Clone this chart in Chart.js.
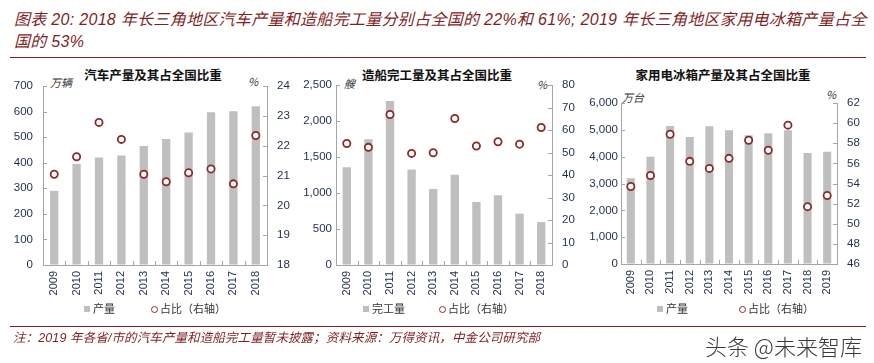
<!DOCTYPE html>
<html>
<head>
<meta charset="utf-8">
<script src="https://cdn.jsdelivr.net/npm/chart.js@4.4.1/dist/chart.umd.min.js"></script>
<style>
  body { margin: 0; background: #fff; width: 874px; height: 363px; position: relative; overflow: hidden;
         font-family: 'Liberation Sans', 'Noto Sans CJK SC', sans-serif; }
  .abs { position: absolute; white-space: nowrap; }
  #head { left: 14px; top: 9px; font-size: 16px; line-height: 22px; color: #7f1f1f; font-style: italic;
          font-family: 'Liberation Sans', 'Noto Sans CJK SC', sans-serif; letter-spacing: 0.3px; }
  .rule { position: absolute; left: 10px; width: 856px; height: 0; border-top: 1.5px solid #7f1f1f; }
  .ctitle { font-family: 'Noto Sans CJK SC', sans-serif; font-weight: 700; font-size: 12.5px; color: #111;
            transform: translateX(-50%); line-height: 14px; }
  .unit { font-family: 'Noto Sans CJK SC', sans-serif; font-size: 11px; color: #333; line-height: 12px; font-style: italic; }
  .leg { font-family: 'Noto Sans CJK SC', sans-serif; font-size: 11px; color: #333; line-height: 12px; }
  .sq { display: inline-block; width: 6px; height: 6px; background: #bfbfbf; margin-right: 3px; vertical-align: 1px; }
  .ci { display: inline-block; width: 5px; height: 5px; border: 1.8px solid #8b2a2a; border-radius: 50%; margin-right: 2px; vertical-align: 0px; }
  #foot { left: 13px; top: 331px; font-size: 12.5px; line-height: 14px; color: #7f1f1f; font-style: italic;
          font-family: 'Liberation Sans', 'Noto Sans CJK SC', sans-serif; }
  #mark { left: 705px; top: 332px; font-size: 22px; line-height: 26px; color: #3a3a3a; font-family: 'Noto Sans CJK SC', sans-serif; font-weight: 300; }
  canvas { position: absolute; }
</style>
</head>
<body>
<div id="head" class="abs">图表 20: 2018 年长三角地区汽车产量和造船完工量分别占全国的 22%和 61%; 2019 年长三角地区家用电冰箱产量占全<br>国的 53%</div>
<div class="rule" style="top:57px"></div>

<div class="abs ctitle" style="left:153px;top:68px">汽车产量及其占全国比重</div>
<div class="abs ctitle" style="left:437px;top:68px">造船完工量及其占全国比重</div>
<div class="abs ctitle" style="left:723px;top:68px">家用电冰箱产量及其占全国比重</div>

<div class="abs unit" style="left:50px;top:76px">万辆</div>
<div class="abs unit" style="left:248px;top:75px">%</div>
<div class="abs unit" style="left:344px;top:77px">艘</div>
<div class="abs unit" style="left:537px;top:78px">%</div>
<div class="abs unit" style="left:622px;top:91px">万台</div>
<div class="abs unit" style="left:826px;top:88px">%</div>

<canvas id="c1" width="295" height="270" style="left:0;top:60px"></canvas>
<canvas id="c2" width="285" height="270" style="left:295px;top:60px"></canvas>
<canvas id="c3" width="294" height="270" style="left:580px;top:60px"></canvas>

<div class="abs leg" style="left:84px;top:302px"><span class="sq"></span>产量</div>
<div class="abs leg" style="left:151px;top:302px"><span class="ci"></span>占比（右轴）</div>
<div class="abs leg" style="left:363px;top:302px"><span class="sq"></span>完工量</div>
<div class="abs leg" style="left:439px;top:302px"><span class="ci"></span>占比（右轴）</div>
<div class="abs leg" style="left:657px;top:302px"><span class="sq"></span>产量</div>
<div class="abs leg" style="left:739px;top:302px"><span class="ci"></span>占比（右轴）</div>

<div class="rule" style="top:326px"></div>
<div id="foot" class="abs">注：2019 年各省/市的汽车产量和造船完工量暂未披露；资料来源：万得资讯，中金公司研究部</div>
<div id="mark" class="abs">头条 @未来智库</div>

<script>
// car output (万辆) and share of national total (%)
const carYears = ['2009', '2010', '2011', '2012', '2013', '2014', '2015', '2016', '2017', '2018'];
const carOutput = [290, 395, 420, 428, 465, 493, 518, 597, 601, 621];
const carShare = [21.04, 21.63, 22.78, 22.21, 21.04, 20.79, 21.09, 21.22, 20.72, 22.34];

// ships completed (艘) and share (%)
const shipYears = ['2009', '2010', '2011', '2012', '2013', '2014', '2015', '2016', '2017', '2018'];
const shipOutput = [1359, 1746, 2277, 1327, 1057, 1252, 875, 968, 712, 596];
const shipShare = [54.0, 52.3, 66.9, 49.6, 49.9, 65.1, 52.9, 54.8, 53.7, 61.1];

// household fridges (万台) and share (%)
const fridgeYears = ['2009', '2010', '2011', '2012', '2013', '2014', '2015', '2016', '2017', '2018', '2019'];
const fridgeOutput = [3193, 4000, 5143, 4733, 5130, 4981, 4800, 4870, 4981, 4137, 4186];
const fridgeShare = [53.7, 54.8, 58.9, 56.2, 55.5, 56.5, 58.3, 57.3, 59.8, 51.7, 52.8];

const BAR = '#bfbfbf';
const DOT = '#8b2a2a';
const AXIS = '#a6a6a6';
const TICK = '#1f2d4d';

// stretch the footnote so it ends where the original one does
const foot = document.getElementById('foot');
const footW = foot.getBoundingClientRect().width;
const footTarget = 527;
if (Math.abs(footW - footTarget) > 4) {
  foot.style.letterSpacing = ((footTarget - footW) / foot.textContent.length).toFixed(2) + 'px';
}

// small tick marks pointing into the plot, like the excel original
const insideTicks = {
  id: 'insideTicks',
  afterDraw(chart) {
    const { ctx, chartArea: a, scales } = chart;
    ctx.save();
    ctx.strokeStyle = AXIS;
    ctx.lineWidth = 1;
    ctx.beginPath();
    scales.y.ticks.forEach(t => {
      const y = Math.round(scales.y.getPixelForValue(t.value)) + 0.5;
      ctx.moveTo(a.left, y); ctx.lineTo(a.left + 4, y);
    });
    scales.y1.ticks.forEach(t => {
      const y = Math.round(scales.y1.getPixelForValue(t.value)) + 0.5;
      ctx.moveTo(a.right, y); ctx.lineTo(a.right - 4, y);
    });
    const x = scales.x;
    const n = x.ticks.length;
    for (let i = 0; i <= n; i++) {
      let px;
      if (i === 0) px = x.left;
      else if (i === n) px = x.right;
      else px = (x.getPixelForValue(i - 1) + x.getPixelForValue(i)) / 2;
      px = Math.round(px) + 0.5;
      ctx.moveTo(px, a.bottom); ctx.lineTo(px, a.bottom - 4);
    }
    ctx.stroke();
    ctx.restore();
  }
};

function makeChart(id, labels, bars, shares, o) {
  new Chart(document.getElementById(id), {
    data: {
      labels: labels,
      datasets: [
        {
          type: 'line', data: shares, yAxisID: 'y1', showLine: false,
          pointRadius: 3.6, pointBorderWidth: 1.8, pointBorderColor: DOT, pointBackgroundColor: '#fff',
          order: 0
        },
        {
          type: 'bar', data: bars, yAxisID: 'y', backgroundColor: BAR,
          barPercentage: o.bar, categoryPercentage: 1, order: 1
        }
      ]
    },
    options: {
      responsive: false,
      animation: false,
      devicePixelRatio: 1,
      layout: { padding: { top: o.top, bottom: o.bottom, left: 0, right: 0 } },
      plugins: { legend: { display: false }, tooltip: { enabled: false } },
      scales: {
        x: {
          grid: { drawOnChartArea: false, drawTicks: false },
          border: { color: AXIS },
          ticks: { color: TICK, font: { size: 11, family: 'Liberation Sans' }, minRotation: 90, maxRotation: 90, padding: 6 },
          afterFit: s => { s.height = 40; }
        },
        y: {
          position: 'left', min: o.yMin, max: o.yMax,
          grid: { drawOnChartArea: false, drawTicks: false },
          border: { color: AXIS },
          ticks: {
            stepSize: o.yStep, color: TICK, padding: o.lpad,
            font: { size: 11.5, family: 'Liberation Sans' },
            callback: v => v.toLocaleString('en-US')
          },
          afterFit: s => { s.width = o.lw; }
        },
        y1: {
          position: 'right', min: o.rMin, max: o.rMax,
          grid: { drawOnChartArea: false, drawTicks: false },
          border: { color: AXIS },
          ticks: { stepSize: o.rStep, color: TICK, padding: 10, font: { size: 11.5, family: 'Liberation Sans' } },
          afterFit: s => { s.width = o.rw; }
        }
      }
    },
    plugins: [insideTicks]
  });
}

makeChart('c1', carYears, carOutput, carShare,
  { bar: 0.37, top: 26, bottom: 25, lw: 43, rw: 28, lpad: 10, yMin: 0, yMax: 700, yStep: 100, rMin: 18, rMax: 24, rStep: 1 });
makeChart('c2', shipYears, shipOutput, shipShare,
  { bar: 0.385, top: 25, bottom: 25, lw: 41, rw: 28, lpad: 4, yMin: 0, yMax: 2500, yStep: 500, rMin: 0, rMax: 80, rStep: 10 });
makeChart('c3', fridgeYears, fridgeOutput, fridgeShare,
  { bar: 0.41, top: 43, bottom: 26, lw: 41, rw: 37, lpad: 3, yMin: 0, yMax: 6000, yStep: 1000, rMin: 46, rMax: 62, rStep: 2 });
</script>
</body>
</html>
